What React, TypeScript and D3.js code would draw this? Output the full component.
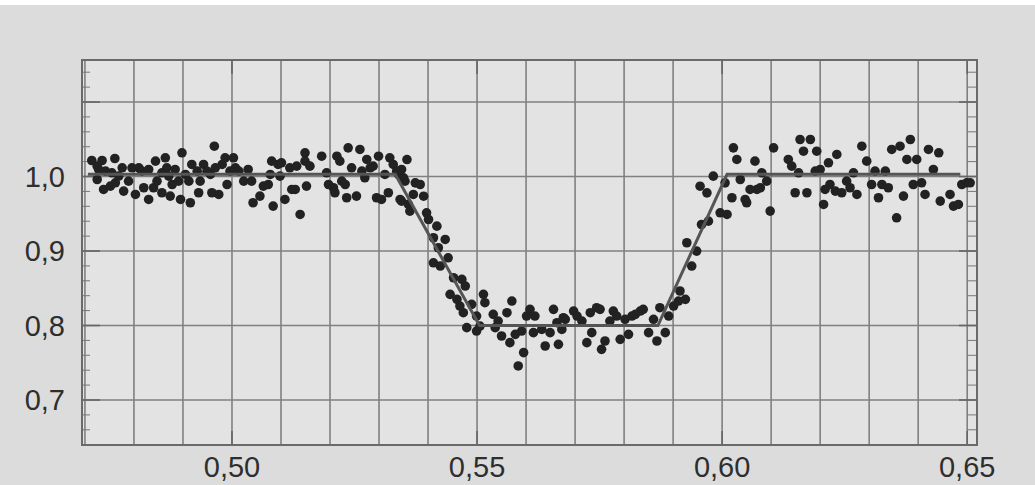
import React from 'react';
import * as d3 from 'd3';

// light curve: phase vs relative flux
const preTransitA: [number, number][] = [
  [0.4714, 1.0215], [0.4725, 1.0139], [0.4735, 1.0215], [0.4728, 1.0094], [0.4761, 1.0242], [0.4725, 0.996],
  [0.4738, 0.9826], [0.4752, 0.9871], [0.4762, 0.9916], [0.4776, 1.0117], [0.4779, 0.9804], [0.4789, 0.9938],
  [0.4796, 1.0117], [0.4803, 0.9759], [0.481, 1.0117], [0.482, 0.9849], [0.483, 0.9692], [0.484, 0.9849],
  [0.4844, 1.0206], [0.4847, 0.9938], [0.4857, 0.9782], [0.4864, 1.0251], [0.4867, 1.0117], [0.4874, 0.9737],
  [0.4878, 0.9893], [0.4884, 1.0095], [0.4895, 0.9692], [0.4898, 1.0318], [0.4891, 0.9938], [0.4912, 0.9938],
  [0.4915, 0.9648], [0.4918, 1.0162], [0.4929, 1.0072], [0.4932, 0.9782], [0.4935, 0.9938], [0.4942, 1.0162],
  [0.4956, 1.0028], [0.4959, 0.9782], [0.4964, 1.0407], [0.4966, 1.0117], [0.4973, 0.9759], [0.498, 1.0162],
  [0.4986, 1.0251], [0.499, 0.9893], [0.5003, 1.0251], [0.5007, 1.0117], [0.5014, 1.0072], [0.5024, 0.9938],
  [0.4742, 1.0072], [0.4755, 1.005], [0.4769, 1.0005], [0.4816, 1.0072], [0.483, 1.0094], [0.4857, 1.005],
  [0.4871, 1.0005], [0.4905, 1.0028], [0.4949, 1.0072], [0.4996, 1.0072],
];

const preTransitB: [number, number][] = [
  [0.5033, 1.0095], [0.504, 0.9938], [0.5043, 0.9648], [0.5057, 0.9737], [0.5064, 0.9871], [0.5074, 0.9893],
  [0.5078, 1.0028], [0.5081, 1.0206], [0.5084, 0.9603], [0.5094, 1.0162], [0.5098, 1.0005], [0.5101, 1.0184],
  [0.5108, 0.9692], [0.5118, 1.0117], [0.5122, 0.9826], [0.5129, 0.9826], [0.5132, 1.0139], [0.5139, 0.9491],
  [0.5149, 1.0318], [0.5149, 1.0206], [0.5152, 0.9871], [0.5159, 1.0139], [0.5183, 1.0273], [0.5193, 1.005],
  [0.5197, 0.9893], [0.5207, 0.9849], [0.521, 0.9782], [0.5214, 1.0273], [0.522, 1.0206], [0.5224, 0.9938],
  [0.5231, 0.9893], [0.5234, 0.9715], [0.5237, 1.0385], [0.5244, 1.0117], [0.5254, 0.9737], [0.5261, 1.0363],
  [0.5265, 1.0072], [0.5271, 0.9983], [0.5275, 1.0229], [0.5282, 1.0117], [0.5288, 1.0139], [0.5295, 0.9715],
  [0.5299, 1.0273], [0.5305, 0.9692], [0.5312, 1.0028], [0.5319, 0.9782], [0.5322, 1.0251], [0.5329, 1.0162],
  [0.5336, 1.0072], [0.5343, 0.9692], [0.5346, 1.0095], [0.5353, 0.9938], [0.536, 0.9626], [0.5357, 1.0228],
];

const ingressAndBottom: [number, number][] = [
  [0.534, 1.0027], [0.535, 0.9982], [0.5374, 0.9915], [0.5384, 0.9893], [0.537, 0.9759], [0.5391, 0.9736],
  [0.5346, 0.9669], [0.5363, 0.9535], [0.5397, 0.9513], [0.5401, 0.9423], [0.5418, 0.9334], [0.5411, 0.9178],
  [0.5435, 0.9155], [0.5421, 0.9044], [0.5441, 0.8909], [0.5411, 0.8842], [0.5425, 0.8798], [0.5452, 0.8641],
  [0.5469, 0.8619], [0.5476, 0.853], [0.5445, 0.8418], [0.5459, 0.8351], [0.5465, 0.8261], [0.5472, 0.8172],
  [0.5489, 0.8284], [0.5513, 0.8418], [0.5516, 0.8306], [0.5499, 0.8127], [0.5479, 0.7971], [0.5499, 0.7926],
  [0.5506, 0.7993], [0.5533, 0.815], [0.5537, 0.7971], [0.555, 0.7859], [0.5561, 0.8172], [0.5571, 0.8328],
  [0.5567, 0.777], [0.5578, 0.7881], [0.5591, 0.7926], [0.5595, 0.7636], [0.5584, 0.7457], [0.5601, 0.8127],
  [0.5608, 0.8217], [0.5618, 0.8127], [0.5615, 0.7904], [0.5632, 0.7948], [0.5639, 0.7725], [0.5649, 0.7904],
  [0.5656, 0.8217], [0.5666, 0.7747], [0.5663, 0.8038], [0.5676, 0.8105], [0.5673, 0.7948], [0.5543, 0.806],
];

const bottomAndEgress: [number, number][] = [
  [0.568, 0.8083], [0.5697, 0.8194], [0.5704, 0.8127], [0.5714, 0.806], [0.5724, 0.777], [0.5734, 0.7904],
  [0.5731, 0.8172], [0.5744, 0.8239], [0.5751, 0.8217], [0.5754, 0.768], [0.5761, 0.7792], [0.5771, 0.806],
  [0.5778, 0.8194], [0.5785, 0.8127], [0.5792, 0.7814], [0.5802, 0.8083], [0.5809, 0.7881], [0.5816, 0.8127],
  [0.5823, 0.815], [0.5833, 0.8194], [0.5839, 0.8217], [0.585, 0.7904], [0.586, 0.8083], [0.5867, 0.7792],
  [0.5873, 0.8239], [0.5884, 0.7904], [0.5891, 0.8127], [0.5901, 0.8261], [0.5911, 0.8328], [0.5914, 0.8463],
  [0.5925, 0.8351], [0.5928, 0.9111], [0.5938, 0.8798], [0.5948, 0.8999], [0.5958, 0.9356], [0.5972, 0.9401],
  [0.5955, 0.987], [0.5969, 0.9781], [0.5982, 1.0005], [0.5996, 0.9513], [0.6006, 0.9915], [0.601, 0.9491],
];

const postTransitA: [number, number][] = [
  [0.602, 0.9715], [0.6023, 1.0385], [0.603, 1.0229], [0.6037, 0.996], [0.6047, 0.9692], [0.605, 0.9648],
  [0.6057, 0.9826], [0.6067, 1.0206], [0.6071, 0.9826], [0.6078, 0.9849], [0.6081, 1.005], [0.6091, 0.9938],
  [0.6098, 0.9536], [0.6105, 1.0385], [0.6135, 1.0229], [0.6142, 1.0139], [0.6149, 0.9782], [0.6156, 1.005],
  [0.6159, 1.0497], [0.6166, 1.034], [0.6173, 0.9782], [0.618, 1.0497], [0.619, 1.0072], [0.6193, 1.034],
  [0.62, 1.0094], [0.6207, 0.9625], [0.6217, 1.0184], [0.621, 0.9826], [0.622, 0.9893], [0.6231, 0.9804],
  [0.6234, 1.0296],
];

const postTransitB: [number, number][] = [
  [0.6244, 0.9782], [0.6254, 0.9938], [0.6261, 0.9849], [0.6268, 1.005], [0.6275, 0.9759], [0.6285, 1.0407],
  [0.6295, 1.0206], [0.6305, 0.9893], [0.6312, 1.0072], [0.6319, 0.9715], [0.6326, 0.9893], [0.6333, 1.0072],
  [0.6339, 0.9849], [0.6346, 1.0363], [0.6356, 0.9446], [0.6363, 1.0407], [0.637, 0.9737], [0.6377, 1.0229],
  [0.6384, 1.0497], [0.639, 0.9893], [0.6397, 1.0229], [0.6407, 0.9916], [0.6414, 0.9759], [0.6421, 1.0363],
  [0.6431, 1.0094], [0.6442, 1.0318], [0.6445, 0.967], [0.6465, 0.9759], [0.6472, 0.9603], [0.6482, 0.9625],
  [0.6489, 0.9893], [0.6499, 0.9916], [0.6506, 0.9916],
];

// trapezoid model fit
const fitPhase = [0.4706, 0.5333, 0.5505, 0.5869, 0.601, 0.6486];
const fitFlux = [1.003, 1.003, 0.8, 0.8, 1.003, 1.003];

const xTicks = [0.5, 0.55, 0.6, 0.65];
const yTicks = [0.7, 0.8, 0.9, 1.0];

const App = () => {
  const width = 1035;
  const height = 485;

  const x = d3.scaleLinear().domain([0.4694, 0.652]).range([82, 977]);
  const y = d3.scaleLinear().domain([0.6396, 1.1564]).range([445, 60]);

  const points = [
    ...preTransitA, ...preTransitB, ...ingressAndBottom,
    ...bottomAndEgress, ...postTransitA, ...postTransitB,
  ];

  const fit = fitPhase.map((p, i) => [p, fitFlux[i]] as [number, number]);
  const fitLine = d3.line<[number, number]>().x((d) => x(d[0])).y((d) => y(d[1]));

  const gridX = d3.range(47, 66).map((v) => v / 100);
  const gridY = d3.range(7, 12).map((v) => v / 10);
  const minorY = d3.range(32, 58).map((v) => v / 50).filter((v) => Math.round(v * 50) % 5 !== 0);

  const [x0, x1] = x.range();
  const [y0, y1] = y.range();
  const comma = (s: string) => s.replace('.', ',');
  const fmtX = d3.format('.2f');
  const fmtY = d3.format('.1f');
  const gridColor = '#808080';
  const font = '"Liberation Sans", Arial, sans-serif';

  return (
    <svg width={width} height={height} style={{position: 'absolute', left: 0, top: 0}}>
      <rect width={width} height={height} fill="#dcdcdc" />
      <rect width={width} height={5} fill="#ffffff" />
      <rect x={x0} y={y1} width={x1 - x0} height={y0 - y1} fill="#e3e3e3" />

      {gridX.map((v) => (
        <line key={'gx' + v} x1={x(v)} x2={x(v)} y1={y1} y2={y0} stroke={gridColor} strokeWidth={1.6} />
      ))}
      {gridY.map((v) => (
        <line key={'gy' + v} x1={x0} x2={x1} y1={y(v)} y2={y(v)} stroke={gridColor} strokeWidth={1.6} />
      ))}

      {minorY.map((v) => (
        <g key={'my' + v} stroke="#777">
          <line x1={x0} x2={x0 + 8} y1={y(v)} y2={y(v)} />
          <line x1={x1} x2={x1 - 10} y1={y(v)} y2={y(v)} />
        </g>
      ))}
      {gridY.map((v) => (
        <g key={'ty' + v} stroke="#666" strokeWidth={1.6}>
          <line x1={x0} x2={x0 + 18} y1={y(v)} y2={y(v)} />
          <line x1={x1} x2={x1 - 18} y1={y(v)} y2={y(v)} />
        </g>
      ))}
      {xTicks.map((v) => (
        <g key={'tx' + v} stroke="#666" strokeWidth={1.6}>
          <line x1={x(v)} x2={x(v)} y1={y1} y2={y1 + 14} />
          <line x1={x(v)} x2={x(v)} y1={y0} y2={y0 - 14} />
        </g>
      ))}

      <rect x={x0} y={y1} width={x1 - x0} height={y0 - y1} fill="none" stroke="#6a6a6a" strokeWidth={2} />

      {points.map((d, i) => (
        <circle key={i} cx={x(d[0])} cy={y(d[1])} r={4.8} fill="#222" />
      ))}

      <path d={fitLine(fit) || ''} fill="none" stroke="#555" strokeWidth={3} />

      {yTicks.map((v) => (
        <text key={'ly' + v} x={65} y={y(v)} dy="0.36em" textAnchor="end"
          fontFamily={font} fontSize={29} fill="#2e2e2e">
          {comma(fmtY(v))}
        </text>
      ))}
      {xTicks.map((v) => (
        <text key={'lx' + v} x={x(v)} y={477} textAnchor="middle"
          fontFamily={font} fontSize={29} fill="#2e2e2e">
          {comma(fmtX(v))}
        </text>
      ))}
    </svg>
  );
};

export default App;
